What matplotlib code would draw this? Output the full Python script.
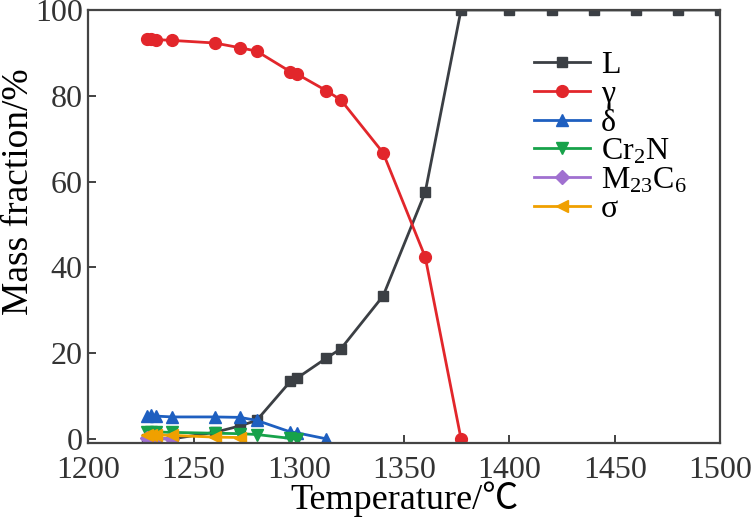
import numpy as np
import matplotlib
matplotlib.use('Agg')
import matplotlib.pyplot as plt
from matplotlib import font_manager

# make sure the Times-like face really exists
font_manager.findfont('Liberation Serif', fallback_to_default=False)

plt.rcParams['font.family'] = ['Liberation Serif', 'Noto Sans CJK SC']
plt.rcParams['mathtext.fontset'] = 'custom'
plt.rcParams['mathtext.rm'] = 'Liberation Serif'
plt.rcParams['mathtext.it'] = 'Liberation Serif'

# Temperature grid of the calculation (°C)
t_main = [1228, 1230, 1232, 1240, 1260, 1272, 1280, 1296, 1299, 1313, 1320, 1340, 1360, 1377]
t_liq = t_main + [1400, 1420, 1440, 1460, 1480, 1500]

# phase mass fractions (%)
liquid = [0, 0, 0, 0, 1.5, 3.0, 4.3, 13.4, 14.1, 18.8, 21.0, 33.3, 57.5, 100,
          100, 100, 100, 100, 100, 100]
gamma = [93.2, 93.3, 93.1, 92.9, 92.3, 91.2, 90.4, 85.6, 85.1, 81.2, 79.0, 66.7, 42.4, 0]
t_delta = [1228, 1230, 1232, 1240, 1260, 1272, 1280, 1296, 1299, 1313]
delta = [5.3, 5.5, 5.3, 5.1, 5.1, 5.0, 4.3, 1.6, 1.4, 0]
t_cr2n = [1228, 1230, 1232, 1240, 1260, 1272, 1280, 1296, 1299]
cr2n = [1.6, 1.6, 1.6, 1.5, 1.3, 1.2, 1.0, 0.1, 0]
t_m23 = [1228, 1230, 1232, 1240]
m23c6 = [0.3, 0.2, 0.1, 0]
t_sigma = [1228, 1230, 1232, 1240, 1260, 1272]
sigma = [1.0, 0.9, 0.9, 0.8, 0.4, 0.3]

fig = plt.figure(figsize=(7.54, 5.25), dpi=100)
ax = fig.add_axes([0.117, 0.156, 0.838, 0.825])

lw = 2
ms = 7
ax.plot(t_liq, liquid, color='#3b3f44', marker='s', lw=lw, ms=ms, label='L')
ax.plot(t_main, gamma, color='#e2262b', marker='o', lw=lw, ms=ms + 1.5, label='γ')
ax.plot(t_delta, delta, color='#1e5fc0', marker='^', lw=lw, ms=ms + 1, label='δ')
ax.plot(t_cr2n, cr2n, color='#17a24a', marker='v', lw=lw, ms=ms + 1, label='Cr$_2$N')
ax.plot(t_m23, m23c6, color='#a070d0', marker='D', lw=lw, ms=ms, label='M$_{23}$C$_6$')
ax.plot(t_sigma, sigma, color='#f0a000', marker='<', lw=lw, ms=ms + 1, label='σ')

ax.set_xlim(1200, 1500)
ax.set_ylim(-1, 100)
ax.set_xticks(np.arange(1200, 1501, 50))
ax.set_yticks(np.arange(0, 101, 20))
ax.tick_params(direction='in', length=6, width=1.3, labelsize=23, colors='#333333')
ax.tick_params(axis='x', pad=9)
ax.tick_params(axis='y', pad=4)
for s in ax.spines.values():
    s.set_linewidth(1.6)
    s.set_color('#444444')

ax.set_xlabel('Temperature/℃', fontsize=26, labelpad=-2)
ax.set_ylabel('Mass fraction/%', fontsize=27)
ax.yaxis.set_label_coords(-0.083, 0.58)

ax.legend(loc='upper left', bbox_to_anchor=(0.685, 0.935), frameon=False,
          fontsize=23, handlelength=1.75, labelspacing=-0.02, handletextpad=0.35,
          borderaxespad=0)

fig.savefig('out.png', dpi=100)
